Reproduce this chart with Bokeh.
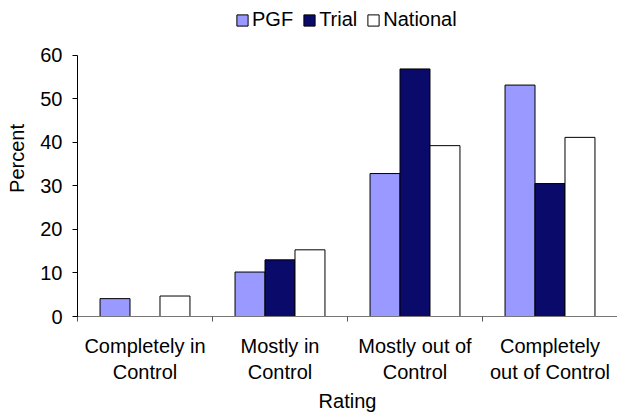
import numpy as np
from bokeh.plotting import figure
from bokeh.models import Range1d, FixedTicker, Legend, LegendItem
from bokeh.embed import file_html
from bokeh.resources import INLINE

categories = ["Completely in\nControl", "Mostly in\nControl", "Mostly out of\nControl", "Completely\nout of Control"]
series_names = ["PGF", "Trial", "National"]
pgf = [4.1, 10.2, 32.8, 53.1]
trial = [0.0, 13.0, 56.8, 30.5]
national = [4.7, 15.3, 39.2, 41.1]
y_ticks = [0, 10, 20, 30, 40, 50, 60]
y_max = 60

colors = ["#9999FF", "#0A0A6B", "#FFFFFF"]
FONT = "Liberation Sans"
FS = "20px"

W, H = 617, 417
LEFT, BOTTOM = 77, 101
frame_h = H - BOTTOM          # frame spans the whole top so the legend fits inside
axis_px = 261.5               # pixel length of the 0..60 axis
y_end = y_max * frame_h / axis_px

p = figure(width=W, height=H, output_backend="svg", toolbar_location=None,
           x_range=Range1d(0, len(categories)), y_range=Range1d(0, y_end),
           min_border_left=LEFT, min_border_right=0, min_border_top=0, min_border_bottom=BOTTOM)
p.outline_line_color = None
p.xgrid.visible = False
p.ygrid.visible = False
p.background_fill_color = "white"
p.border_fill_color = "white"

centers = np.arange(len(categories)) + 0.5
bw = 0.222
renderers = []
for i, (vals, col) in enumerate(zip([pgf, trial, national], colors)):
    r = p.vbar(x=centers + (i - 1) * bw, top=vals, width=bw, bottom=0,
               fill_color=col, line_color="black", line_width=1)
    renderers.append(r)

# x axis
xa = p.xaxis[0]
xa.ticker = FixedTicker(ticks=list(centers), minor_ticks=list(range(len(categories) + 1)))
xa.major_label_overrides = {float(c): lab for c, lab in zip(centers, categories)}
xa.major_tick_out = 0
xa.major_tick_in = 0
xa.minor_tick_out = 5
xa.minor_tick_in = 0
xa.minor_tick_line_color = "#555555"
xa.axis_line_color = "#777777"
xa.major_label_text_font = FONT
xa.major_label_text_font_size = FS
xa.major_label_text_color = "black"
xa.major_label_standoff = 13
xa.axis_label = "Rating"
xa.axis_label_text_font = FONT
xa.axis_label_text_font_size = FS
xa.axis_label_text_font_style = "normal"
xa.axis_label_text_color = "black"
xa.axis_label_standoff = 4

# y axis
ya = p.yaxis[0]
ya.bounds = (0, y_max)
ya.ticker = FixedTicker(ticks=y_ticks)
ya.minor_tick_line_color = None
ya.major_tick_out = 5
ya.major_tick_in = 0
ya.axis_line_color = "black"
ya.major_tick_line_color = "black"
ya.major_label_text_font = FONT
ya.major_label_text_font_size = FS
ya.major_label_text_color = "black"
ya.major_label_standoff = 10
ya.axis_label = "Percent"
ya.axis_label_text_font = FONT
ya.axis_label_text_font_size = FS
ya.axis_label_text_font_style = "normal"
ya.axis_label_text_color = "black"
ya.axis_label_standoff = 9

legend = Legend(items=[LegendItem(label=n, renderers=[r]) for n, r in zip(series_names, renderers)],
                orientation="horizontal", location=(158, frame_h - 31),
                glyph_width=14, glyph_height=14, label_standoff=3, spacing=9,
                padding=0, margin=0, border_line_color=None, background_fill_alpha=0,
                label_text_font=FONT, label_text_font_size=FS, label_text_color="black")
p.add_layout(legend, "center")

open("out.html", "w").write(file_html(p, INLINE))
